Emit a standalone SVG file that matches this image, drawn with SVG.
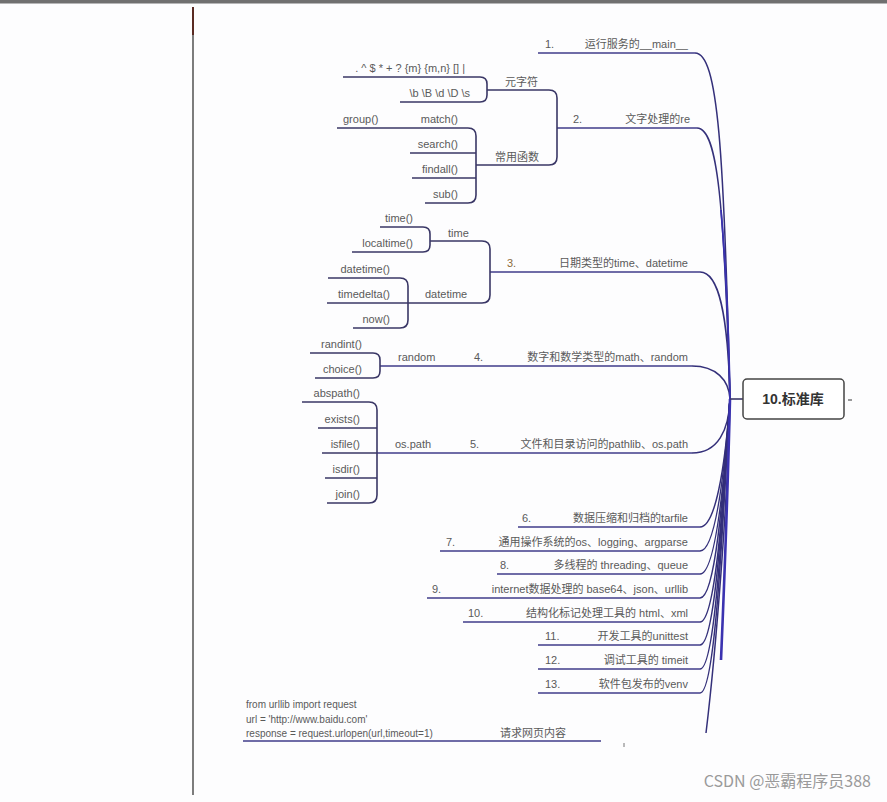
<svg xmlns="http://www.w3.org/2000/svg" width="887" height="802" viewBox="0 0 887 802">
<style>
.t{font-family:"Liberation Sans","Noto Sans CJK SC",sans-serif;font-size:11px;fill:#5a5a5a}
.e{text-anchor:end}
.ln{fill:none;stroke:#3f3b8a;stroke-width:1.6}
.br{fill:none;stroke:#3a3766;stroke-width:1.6}
.cv{fill:none;stroke:#34307a;stroke-width:1.5}
</style>
<rect width="887" height="802" fill="#fdfdfe"/>
<rect width="887" height="3.5" fill="#707070"/>
<line x1="193" y1="7" x2="193" y2="795" stroke="#5c5c5c" stroke-width="1.6"/>
<line x1="193" y1="7" x2="193" y2="35" stroke="#5a2a22" stroke-width="2"/>

<g id="connectors">
<!-- main curves to trunk -->
<path class="cv" d="M695 53 C718 53 724 150 730 399"/>
<path class="cv" d="M697 128 C718 128 724 205 730 399"/>
<path class="cv" d="M700 272 C718 272 728 310 730 399"/>
<path class="cv" d="M692 366 C716 366 729 380 730 399"/>
<path class="cv" d="M692 453 C718 453 729 430 730 399"/>
<path class="cv" d="M700 527 C715 527 725 470 730 399"/>
<path class="cv" d="M700 551 C715 551 724 480 730 399"/>
<path class="cv" d="M700 574 C715 574 724 490 730 399"/>
<path class="cv" d="M700 598 C715 598 723 500 730 399"/>
<path class="cv" d="M700 622 C715 622 723 510 730 399"/>
<path class="cv" d="M700 645 C715 645 722 520 730 399"/>
<path class="cv" d="M700 669 C715 669 722 530 730 399"/>
<path class="cv" d="M700 693 C715 693 722 540 730 399"/>
<path class="cv" d="M730 399 C728 500 716 650 706 733"/>
<path d="M721 660 Q727 520 730 399" fill="none" stroke="#3a32b0" stroke-width="2.6"/>
<path d="M721 210 Q728 290 730 399" fill="none" stroke="#3a32b0" stroke-width="1.8"/>
<line x1="730" y1="399" x2="743" y2="399" stroke="#3a3766" stroke-width="1.6"/>
<line x1="848" y1="400" x2="852" y2="400" stroke="#555" stroke-width="1.2"/>

<!-- branch underlines -->
<line class="ln" x1="538" y1="53" x2="695" y2="53"/>
<line class="ln" x1="557" y1="128" x2="697" y2="128"/>
<line class="ln" x1="490" y1="272" x2="700" y2="272"/>
<line class="ln" x1="380" y1="366" x2="692" y2="366"/>
<line class="ln" x1="377" y1="453" x2="692" y2="453"/>
<line class="ln" x1="518" y1="527" x2="700" y2="527"/>
<line class="ln" x1="440" y1="551" x2="700" y2="551"/>
<line class="ln" x1="497" y1="574" x2="700" y2="574"/>
<line class="ln" x1="427" y1="598" x2="700" y2="598"/>
<line class="ln" x1="463" y1="622" x2="700" y2="622"/>
<line class="ln" x1="538" y1="645" x2="700" y2="645"/>
<line class="ln" x1="538" y1="669" x2="700" y2="669"/>
<line class="ln" x1="538" y1="693" x2="700" y2="693"/>
<line class="ln" x1="243" y1="741" x2="601" y2="741"/>
<line x1="624" y1="743" x2="624" y2="747" stroke="#777" stroke-width="1"/>

<!-- re sub-branches -->
<path class="br" d="M487 90 H549 Q557 90 557 98 V157 Q557 165 549 165 H476"/>
<path class="br" d="M343 77 H480 Q487 77 487 84 V95 Q487 102 480 102 H400"/>
<path class="br" d="M337 128 H468 Q476 128 476 136 V195 Q476 203 468 203 H425"/>
<path class="br" d="M410 153 H476 M412 178 H476"/>
<!-- time sub-branches -->
<path class="br" d="M430 241 H482 Q490 241 490 249 V295 Q490 303 482 303 H408"/>
<path class="br" d="M380 227 H423 Q430 227 430 234 V245 Q430 252 423 252 H352"/>
<path class="br" d="M328 278 H400 Q408 278 408 286 V320 Q408 328 400 328 H353"/>
<path class="br" d="M327 303 H408"/>
<!-- random -->
<path class="br" d="M310 353 H373 Q380 353 380 360 V371 Q380 378 373 378 H315"/>
<!-- os.path -->
<path class="br" d="M302 402 H369 Q377 402 377 410 V495 Q377 503 369 503 H327"/>
<path class="br" d="M318 428 H377 M322 453 H377 M325 478 H377"/>
</g>

<g id="root">
<rect x="743" y="379" width="101" height="40" rx="4" fill="#fff" stroke="#444" stroke-width="1.5"/>
<text x="793" y="404" text-anchor="middle" style="font-family:'Liberation Sans','Noto Sans CJK SC',sans-serif;font-size:14px;font-weight:bold;fill:#333">10.标准库</text>
</g>

<g id="b1"><text class="t" x="545" y="48">1.</text><text class="t e" x="688" y="48">运行服务的__main__</text></g>
<g id="b2"><text class="t" x="573" y="123">2.</text><text class="t e" x="690" y="123">文字处理的re</text></g>
<g id="b2a"><text class="t" x="505" y="86">元字符</text>
<text class="t e" x="465" y="72">. ^ $ * + ? {m} {m,n} [] |</text>
<text class="t e" x="470" y="97">\b \B \d \D \s</text></g>
<g id="b2b"><text class="t" x="495" y="161">常用函数</text>
<text class="t" x="343" y="123">group()</text>
<text class="t e" x="458" y="123">match()</text>
<text class="t e" x="458" y="148">search()</text>
<text class="t e" x="458" y="173">findall()</text>
<text class="t e" x="458" y="198">sub()</text></g>
<g id="b3"><text class="t" x="507" y="267" style="fill:#8a6a3a">3.</text><text class="t e" x="688" y="267">日期类型的time、datetime</text>
<text class="t" x="448" y="237">time</text>
<text class="t e" x="413" y="222">time()</text>
<text class="t e" x="413" y="247">localtime()</text>
<text class="t" x="425" y="298">datetime</text>
<text class="t e" x="390" y="273">datetime()</text>
<text class="t e" x="390" y="298">timedelta()</text>
<text class="t e" x="390" y="323">now()</text></g>
<g id="b4"><text class="t" x="398" y="361">random</text><text class="t" x="474" y="361">4.</text><text class="t e" x="688" y="361">数字和数学类型的math、random</text>
<text class="t e" x="362" y="348">randint()</text>
<text class="t e" x="362" y="373">choice()</text></g>
<g id="b5"><text class="t" x="395" y="448">os.path</text><text class="t" x="470" y="448">5.</text><text class="t e" x="688" y="448">文件和目录访问的pathlib、os.path</text>
<text class="t e" x="360" y="397">abspath()</text>
<text class="t e" x="360" y="423">exists()</text>
<text class="t e" x="360" y="448">isfile()</text>
<text class="t e" x="360" y="473">isdir()</text>
<text class="t e" x="360" y="498">join()</text></g>
<g id="b6"><text class="t" x="522" y="522">6.</text><text class="t e" x="688" y="522">数据压缩和归档的tarfile</text></g>
<g id="b7"><text class="t" x="446" y="546">7.</text><text class="t e" x="688" y="546">通用操作系统的os、logging、argparse</text></g>
<g id="b8"><text class="t" x="500" y="569">8.</text><text class="t e" x="688" y="569">多线程的 threading、queue</text></g>
<g id="b9"><text class="t" x="432" y="593">9.</text><text class="t e" x="688" y="593">internet数据处理的 base64、json、urllib</text></g>
<g id="b10"><text class="t" x="468" y="617">10.</text><text class="t e" x="688" y="617">结构化标记处理工具的 html、xml</text></g>
<g id="b11"><text class="t" x="545" y="640">11.</text><text class="t e" x="688" y="640">开发工具的unittest</text></g>
<g id="b12"><text class="t" x="545" y="664">12.</text><text class="t e" x="688" y="664">调试工具的 timeit</text></g>
<g id="b13"><text class="t" x="545" y="688">13.</text><text class="t e" x="688" y="688">软件包发布的venv</text></g>
<g id="b14"><text class="t" x="246" y="708" style="font-size:10px">from urllib import request</text>
<text class="t" x="246" y="723" style="font-size:10px">url = 'http://www.baidu.com'</text>
<text class="t" x="246" y="737" style="font-size:10px">response = request.urlopen(url,timeout=1)</text>
<text class="t" x="500" y="737">请求网页内容</text></g>

<text x="871" y="787" text-anchor="end" style="font-family:'Noto Sans CJK SC','Liberation Sans',sans-serif;font-size:16px;fill:#9a9a9a">CSDN @恶霸程序员388</text>
</svg>
